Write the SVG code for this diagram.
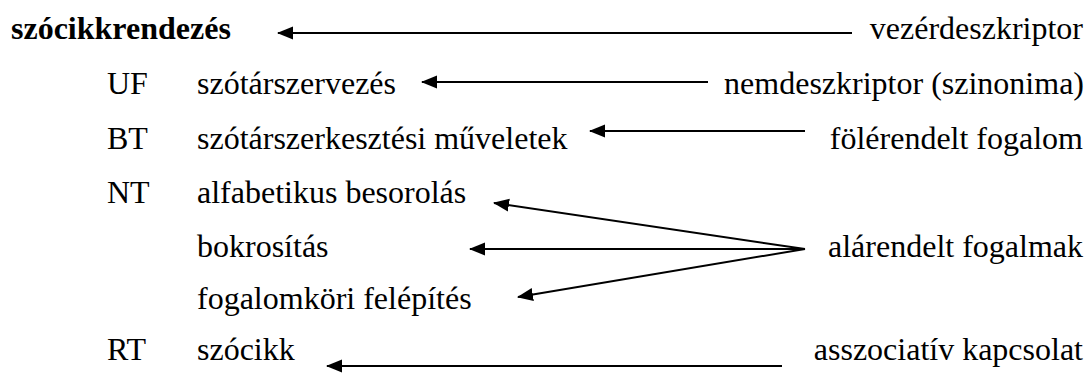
<svg xmlns="http://www.w3.org/2000/svg" width="1090" height="376" viewBox="0 0 1090 376" font-family="'Liberation Serif', 'Times New Roman', serif">
<defs>
<style>
text{font-family:"Liberation Serif","Times New Roman",serif;font-size:32px;fill:#000}
.b{font-weight:bold}
.r{text-anchor:end}
.c{stroke:#000;stroke-width:2;fill:none;marker-end:url(#ah)}
</style>
<marker id="ah" markerUnits="userSpaceOnUse" markerWidth="16" markerHeight="14" refX="15" refY="6.5" orient="auto">
<path d="M0,0 L16,6.5 L0,13 z" fill="#000"/>
</marker>
</defs>
<rect width="1090" height="376" fill="#fff"/>
<g id="n-szocikkrendezes"><text class="b" x="11" y="39">szócikkrendezés</text></g>
<g id="n-vezerdeszkriptor"><text class="r" x="1083" y="39">vezérdeszkriptor</text></g>
<g id="n-uf"><text x="107" y="94">UF</text><text x="197" y="94">szótárszervezés</text></g>
<g id="n-nemdeszkriptor"><text class="r" x="1084" y="94">nemdeszkriptor (szinonima)</text></g>
<g id="n-bt"><text x="107" y="149">BT</text><text x="197" y="149">szótárszerkesztési műveletek</text></g>
<g id="n-folerendelt"><text class="r" x="1083" y="149">fölérendelt fogalom</text></g>
<g id="n-nt"><text x="107" y="203">NT</text><text x="197" y="203">alfabetikus besorolás</text></g>
<g id="n-bokrositas"><text x="197" y="257">bokrosítás</text></g>
<g id="n-fogalomkori"><text x="197" y="309">fogalomköri felépítés</text></g>
<g id="n-alarendelt"><text class="r" x="1083" y="257">alárendelt fogalmak</text></g>
<g id="n-rt"><text x="107" y="360">RT</text><text x="197" y="360">szócikk</text></g>
<g id="n-asszociativ"><text class="r" x="1083" y="360">asszociatív kapcsolat</text></g>
<g id="connectors">
<line class="c" x1="852" y1="33" x2="278" y2="33"/>
<line class="c" x1="708" y1="82" x2="422" y2="82"/>
<line class="c" x1="805" y1="131" x2="590" y2="131"/>
<line class="c" x1="805" y1="249" x2="494" y2="203"/>
<line class="c" x1="805" y1="249" x2="470" y2="249"/>
<line class="c" x1="805" y1="249" x2="518" y2="297"/>
<line class="c" x1="782" y1="366" x2="327" y2="366"/>
</g>
</svg>
